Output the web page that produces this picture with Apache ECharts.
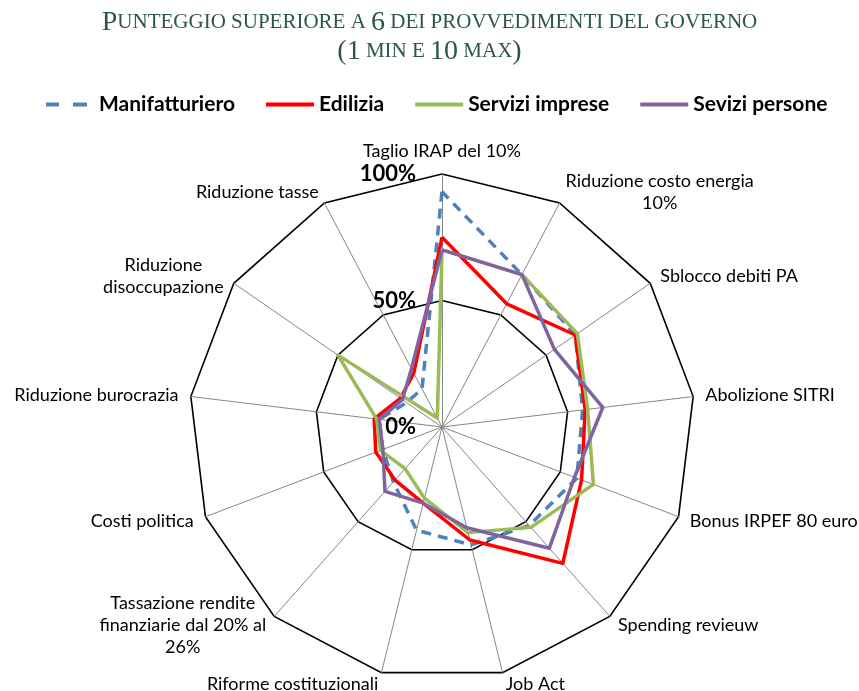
<!DOCTYPE html>
<html>
<head>
<meta charset="utf-8">
<script src="https://cdn.jsdelivr.net/npm/echarts@6/dist/echarts.min.js"></script>
<style>
  html, body { margin: 0; padding: 0; background: #fff; }
  #chart { width: 859px; height: 691px; }
</style>
</head>
<body>
<div id="chart"></div>
<script>
// categories, clockwise from the top
const indicatorNames = [
  'Taglio IRAP del 10%',
  'Riduzione costo energia\n10%',
  'Sblocco debiti PA',
  'Abolizione SITRI',
  'Bonus IRPEF 80 euro',
  'Spending revieuw',
  'Job Act',
  'Riforme costituzionali',
  'Tassazione rendite\nfinanziarie dal 20% al\n26%',
  'Costi politica',
  'Riduzione burocrazia',
  'Riduzione\ndisoccupazione',
  'Riduzione tasse'
]
// values in percent, same order as the categories
const manifatturiero = [93, 68, 64, 56, 57, 52, 48, 42, 29, 25, 25, 17, 17]
const edilizia = [75, 55, 64, 57, 59, 72, 46, 31, 28, 28, 27, 20, 24]
const serviziImprese = [70, 68, 65, 58, 64, 53, 43, 29, 22, 26, 26, 50, 4]
const seviziPersone = [70, 68, 54, 64, 56, 64, 41, 31, 34, 25, 25, 19, 26]
const seriesNames = ['Manifatturiero', 'Edilizia', 'Servizi imprese', 'Sevizi persone']
const axisMax = 100

const labelFont = 'Lato'
const labelSize = 18

// echarts lays radar axes out counter-clockwise, so feed it the reversed order
const order = indicatorNames.map(function (_, i) { return i === 0 ? 0 : indicatorNames.length - i })
function ccw (arr) { return order.map(function (i) { return arr[i] }) }

// width of the widest line, so multi-line names can be centred line by line
const ctx = document.createElement('canvas').getContext('2d')
ctx.font = labelSize + 'px ' + labelFont
const rich = {}
indicatorNames.forEach(function (name, i) {
  const w = Math.max.apply(null, name.split('\n').map(function (s) { return ctx.measureText(s).width }))
  rich['n' + i] = { width: Math.ceil(w), align: 'center', fontSize: labelSize, fontFamily: labelFont, color: '#000', lineHeight: 22 }
})

const titleGreen = '#2c5842'
const myChart = echarts.init(document.getElementById('chart'))
const options = {
  backgroundColor: '#fff',
  title: {
    left: 'center',
    top: 3,
    text: '{c|P}{s|UNTEGGIO SUPERIORE A }{c|6}{s| DEI PROVVEDIMENTI DEL GOVERNO}\n{c|(1}{s| MIN E }{c|10}{s| MAX}{c|)}',
    textStyle: {
      fontWeight: 'normal',
      rich: {
        c: { fontFamily: 'Liberation Serif', fontWeight: 'normal', fontSize: 28, color: titleGreen, lineHeight: 29 },
        s: { fontFamily: 'Liberation Serif', fontWeight: 'normal', fontSize: 21, color: titleGreen, lineHeight: 29 }
      }
    }
  },
  legend: {
    top: 89,
    left: 41,
    itemWidth: 48,
    itemHeight: 4,
    itemGap: 31,
    symbolKeepAspect: false,
    textStyle: { fontFamily: 'Lato', fontWeight: 'bold', fontSize: 21, color: '#000' },
    data: [
      { name: seriesNames[0], icon: 'path://M0,0h13v4h-13z M27,0h14v4h-14z M47.6,1.9h0.4v0.2h-0.4z' },
      { name: seriesNames[1], icon: 'rect' },
      { name: seriesNames[2], icon: 'rect' },
      { name: seriesNames[3], icon: 'rect' }
    ]
  },
  radar: {
    center: [442, 427],
    radius: 253,
    shape: 'polygon',
    splitNumber: 2,
    startAngle: 90,
    nameGap: 12,
    axisName: {
      color: '#000',
      fontSize: labelSize,
      fontFamily: labelFont,
      formatter: function (value) {
        return '{n' + indicatorNames.indexOf(value) + '|' + value + '}'
      },
      rich: rich
    },
    axisLine: { lineStyle: { color: '#878787', width: 1 } },
    splitLine: { lineStyle: { color: '#000', width: 1.6 } },
    splitArea: { show: false },
    axisTick: { show: false },
    axisLabel: { show: false },
    indicator: ccw(indicatorNames).map(function (name, i) {
      const ind = { name: name, min: 0, max: axisMax }
      if (i === 0) {
        ind.axisLabel = {
          show: true,
          formatter: '{value}%',
          margin: 26,
          fontFamily: 'Lato',
          fontWeight: 'bold',
          fontSize: 22,
          color: '#000'
        }
      }
      return ind
    })
  },
  series: [
    {
      type: 'radar',
      symbol: 'none',
      silent: true,
      data: [
        { name: seriesNames[0], value: ccw(manifatturiero), lineStyle: { color: '#4f81bd', width: 3.5, type: [10, 7] }, itemStyle: { color: '#4f81bd' } },
        { name: seriesNames[1], value: ccw(edilizia), lineStyle: { color: '#ff0000', width: 3.5 }, itemStyle: { color: '#ff0000' } },
        { name: seriesNames[2], value: ccw(serviziImprese), lineStyle: { color: '#9bbb59', width: 3.5 }, itemStyle: { color: '#9bbb59' } },
        { name: seriesNames[3], value: ccw(seviziPersone), lineStyle: { color: '#8064a2', width: 3.5 }, itemStyle: { color: '#8064a2' } }
      ]
    }
  ]
}
myChart.setOption(options)
</script>
</body>
</html>
